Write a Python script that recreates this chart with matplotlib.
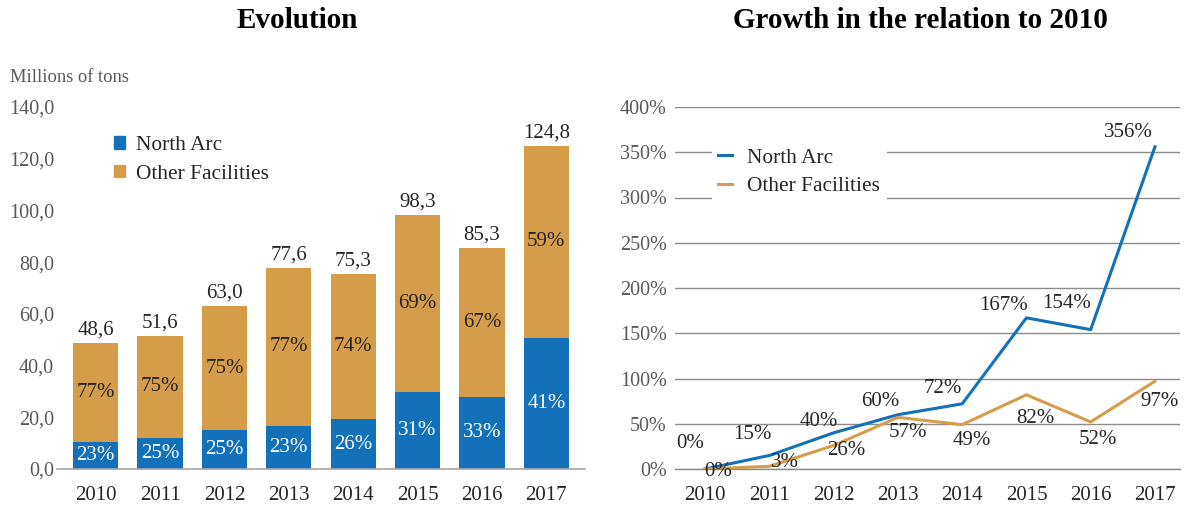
import matplotlib
matplotlib.use("Agg")
import matplotlib.pyplot as plt
from matplotlib.patches import Patch

years = ["2010", "2011", "2012", "2013", "2014", "2015", "2016", "2017"]
totals = [48.6, 51.6, 63.0, 77.6, 75.3, 98.3, 85.3, 124.8]
north_values = [10.5, 12.0, 14.9, 16.8, 19.2, 29.8, 28.0, 50.8]
north_share = [23, 25, 25, 23, 26, 31, 33, 41]
other_share = [77, 75, 75, 77, 74, 69, 67, 59]
north_growth = [0, 15, 40, 60, 72, 167, 154, 356]
other_growth = [0, 3, 26, 57, 49, 82, 52, 97]
yticks_left = [0, 20, 40, 60, 80, 100, 120, 140]
yticks_right = [0, 50, 100, 150, 200, 250, 300, 350, 400]

# label offsets (pixels, layout only)
north_lbl_off = [(-15, 25), (-17, 21), (-15, 11), (-18, 13), (-19, 15), (-23, 12), (-24, 26), (-27, 14)]
other_lbl_off = [(13, -3), (15, 4), (13, -5), (10, -15), (10, -16), (9, -24), (7, -18), (5, -20)]

BLUE = "#1271B9"
GOLD = "#D59C4A"
GRAY = "#595959"
TXT = "#262626"
FS = 15
plt.rcParams['font.family'] = ['Liberation Serif', 'DejaVu Serif']

fig = plt.figure(figsize=(11.88, 5.08), dpi=100)

def fmt_dec(v):
    return f"{v:.1f}".replace(".", ",")

# ---------- Left: stacked bars ----------
axL = fig.add_axes([57/1188, 39/508, 528/1188, 362/508])
x = list(range(len(years)))
other_values = [t - n for t, n in zip(totals, north_values)]
axL.bar(x, north_values, width=0.7, color=BLUE, zorder=2)
axL.bar(x, other_values, width=0.7, bottom=north_values, color=GOLD, zorder=2)
axL.set_xlim(-0.6, 7.6)
axL.set_ylim(0, 140)
axL.set_yticks(yticks_left)
axL.set_yticklabels([fmt_dec(v) for v in yticks_left], color=GRAY, fontsize=14.5)
axL.set_xticks(x)
axL.set_xticklabels(years, color=TXT, fontsize=FS)
for s in ["top", "right", "left"]:
    axL.spines[s].set_visible(False)
axL.spines["bottom"].set_color("#A6A6A6")
axL.spines["bottom"].set_linewidth(1.2)
axL.tick_params(axis="both", length=0)
axL.tick_params(axis="x", pad=12)
axL.tick_params(axis="y", pad=2)
for i in x:
    axL.text(i, north_values[i] / 2, f"{north_share[i]}%", ha="center", va="center",
             color="white", fontsize=FS)
    axL.text(i, north_values[i] + other_values[i] / 2, f"{other_share[i]}%", ha="center",
             va="center", color=TXT, fontsize=FS)
    axL.annotate(fmt_dec(totals[i]), (i, totals[i]), xytext=(0, 2.5), textcoords="offset points",
                 ha="center", va="bottom", color=TXT, fontsize=FS)
fig.text(10/1188, 1 - 77/508, "Millions of tons", color=GRAY, fontsize=13.3, va="center", ha="left")
axL.legend(handles=[Patch(color=BLUE, label="North Arc"), Patch(color=GOLD, label="Other Facilities")],
           loc="upper left", bbox_to_anchor=(0.075, 0.967), frameon=False, fontsize=15.4,
           handlelength=0.52, handleheight=0.52, handletextpad=0.5, labelspacing=0.45,
           labelcolor=TXT, borderpad=0.3)
fig.text(297/1188, 1 - 20/508, "Evolution", ha="center", va="center", fontsize=21,
         fontweight="bold", color="black")

# ---------- Right: growth lines ----------
axR = fig.add_axes([675/1188, 39/508, 505/1188, 362/508])
axR.plot(x, north_growth, color=BLUE, lw=2.2, zorder=3, label="North Arc")
axR.plot(x, other_growth, color=GOLD, lw=2.2, zorder=3, label="Other Facilities")
axR.set_xlim(-0.47, 7.39)
axR.set_ylim(0, 400)
axR.set_yticks(yticks_right)
axR.set_yticklabels([f"{v}%" for v in yticks_right], color=GRAY, fontsize=14.5)
axR.set_xticks(x)
axR.set_xticklabels(years, color=TXT, fontsize=FS)
axR.grid(axis="y", color="#8C8C8C", lw=1.0, zorder=0)
axR.axhline(0, color="#8C8C8C", lw=1.0, zorder=0, clip_on=False)
for s in ["top", "right", "left", "bottom"]:
    axR.spines[s].set_visible(False)
axR.tick_params(axis="both", length=0)
axR.tick_params(axis="x", pad=12)
axR.tick_params(axis="y", pad=6)
for i in x:
    axR.annotate(f"{north_growth[i]}%", (i, north_growth[i]), xytext=north_lbl_off[i],
                 textcoords="offset pixels", ha="center", va="center", color=TXT, fontsize=FS,
                 zorder=4)
    axR.annotate(f"{other_growth[i]}%", (i, other_growth[i]), xytext=other_lbl_off[i],
                 textcoords="offset pixels", ha="center", va="center", color=TXT, fontsize=FS,
                 zorder=4)
leg = axR.legend(loc="upper left", bbox_to_anchor=(0.052, 0.935), frameon=True, fontsize=15.4,
                 handlelength=0.65, handletextpad=0.7, labelspacing=0.4, labelcolor=TXT,
                 borderpad=0.3, fancybox=False)
leg.get_frame().set_facecolor("white")
leg.get_frame().set_edgecolor("none")
leg.get_frame().set_alpha(1)
fig.text(920/1188, 1 - 20/508, "Growth in the relation to 2010", ha="center", va="center",
         fontsize=21, fontweight="bold", color="black")

fig.savefig("out.png", dpi=100)
